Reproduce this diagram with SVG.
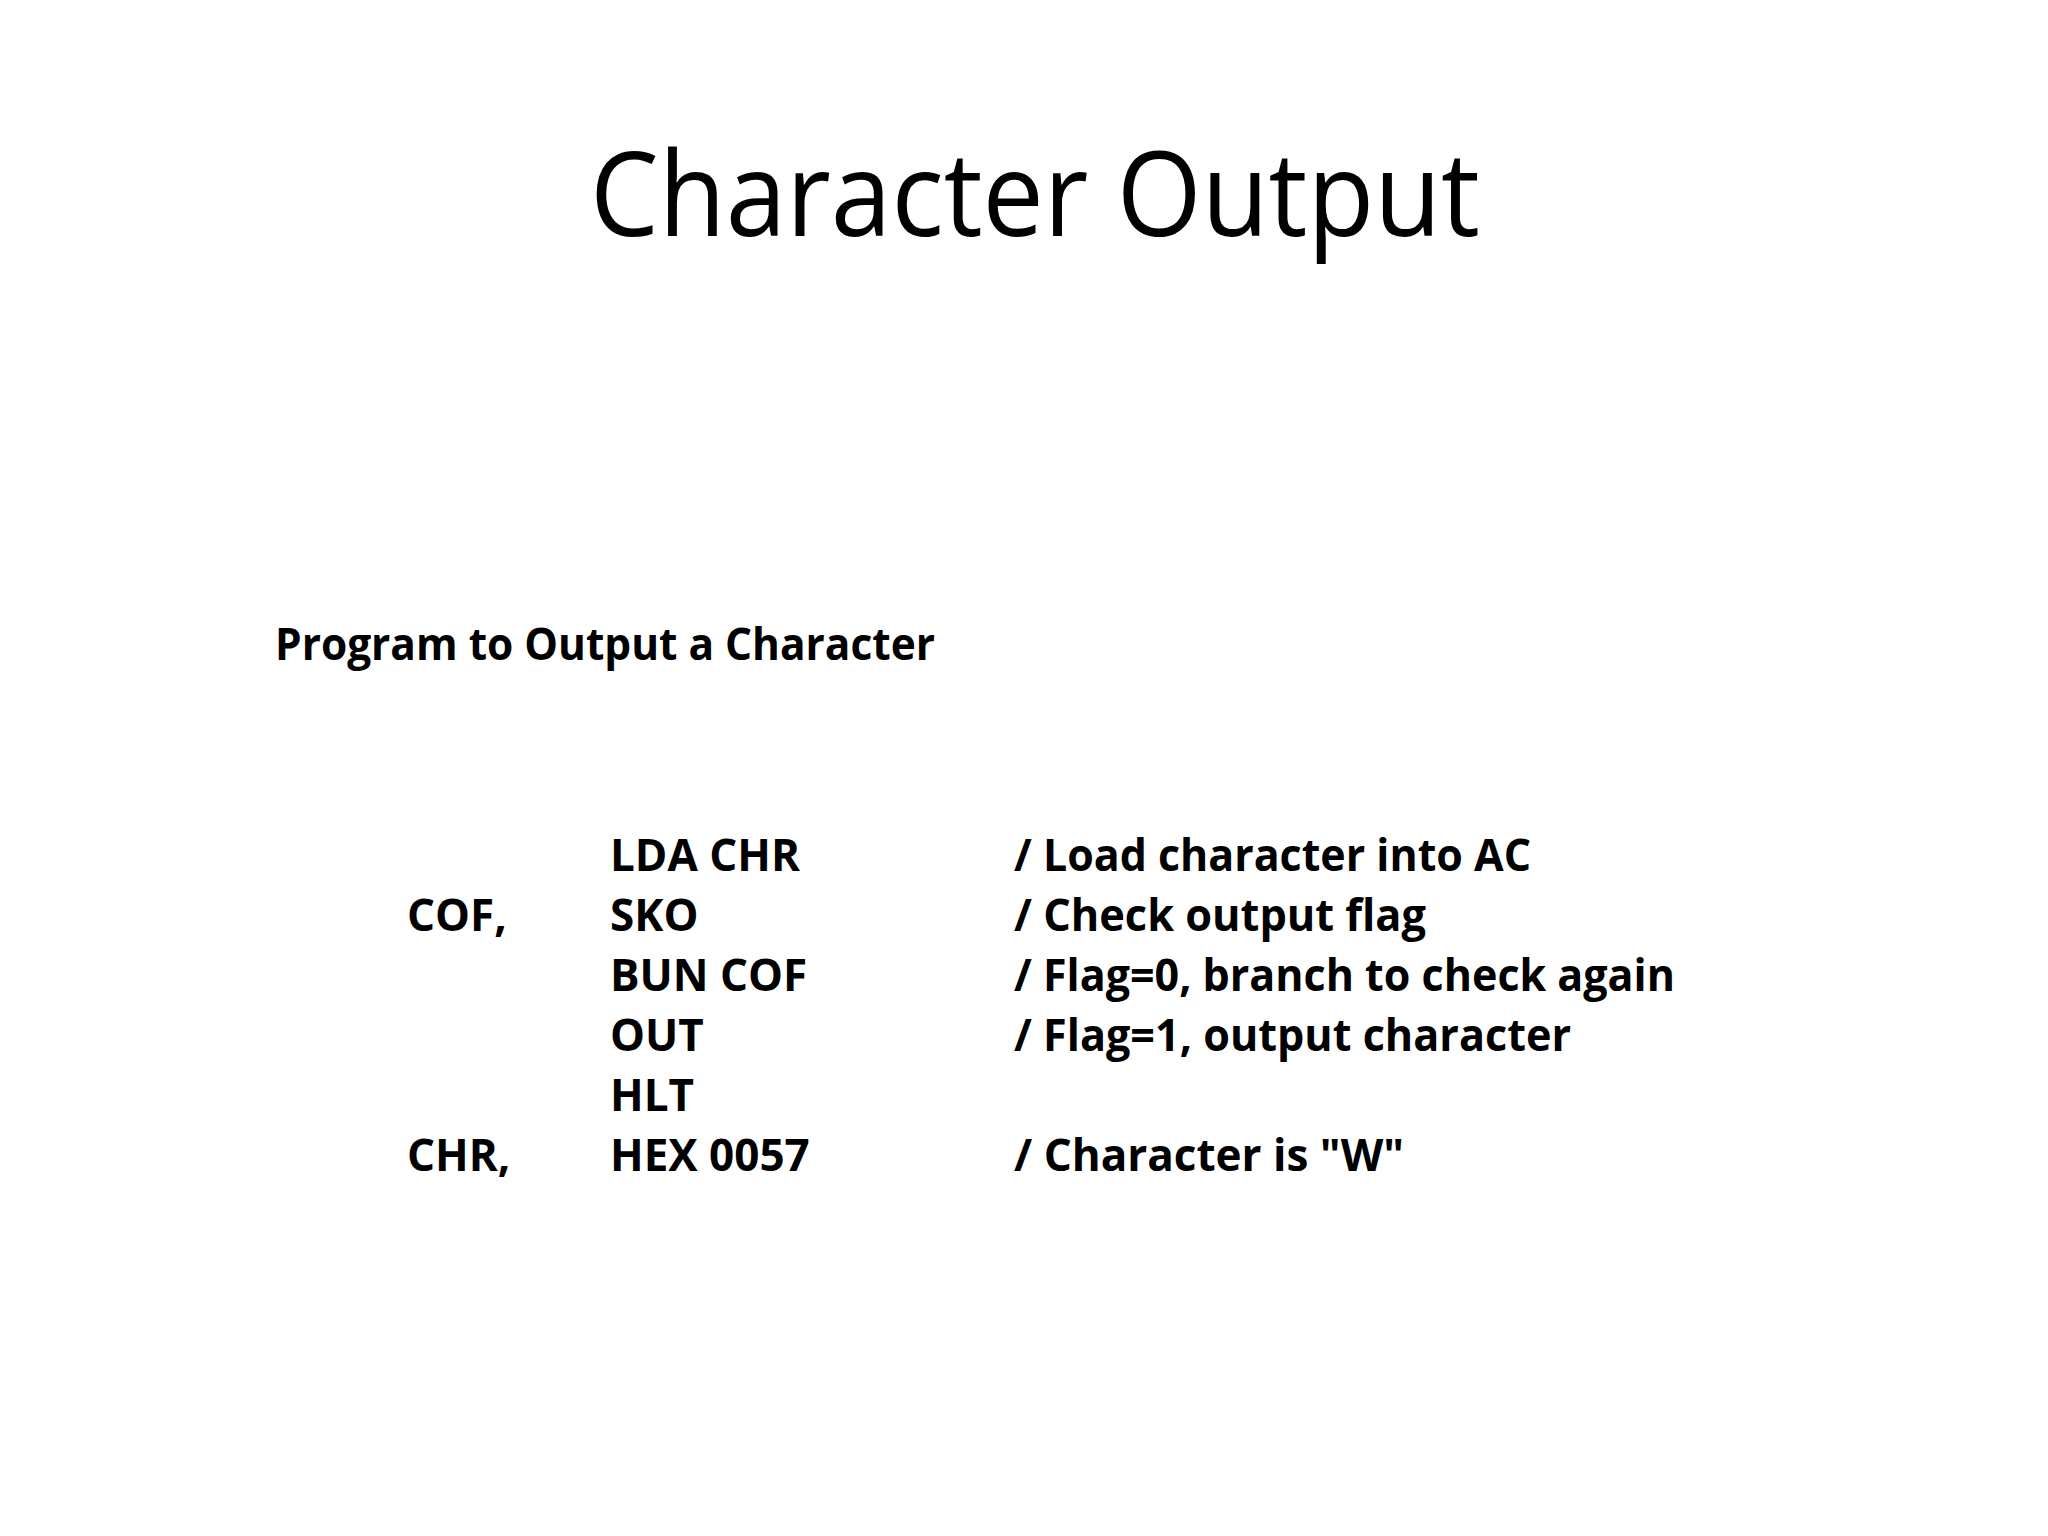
<svg xmlns="http://www.w3.org/2000/svg" width="2048" height="1536" viewBox="0 0 2048 1536">
<style>
text{font-family:"Open Sans","Noto Sans",sans-serif;fill:#000}
.c{font-weight:bold;font-size:44px}
</style>
<rect width="2048" height="1536" fill="#fff"/>
<g id="title"><text x="1035" y="236" text-anchor="middle" font-size="118" textLength="890" lengthAdjust="spacingAndGlyphs">Character Output</text></g>
<g id="subtitle"><text class="c" x="275" y="660" textLength="660" lengthAdjust="spacingAndGlyphs">Program to Output a Character</text></g>
<g id="code" class="c">
<text class="c" x="610" y="871">LDA  CHR</text>
<text class="c" x="1014" y="871" textLength="517" lengthAdjust="spacingAndGlyphs">/ Load character into AC</text>
<text class="c" x="407" y="931">COF,</text>
<text class="c" x="610" y="931">SKO</text>
<text class="c" x="1014" y="931" textLength="412" lengthAdjust="spacingAndGlyphs">/ Check output flag</text>
<text class="c" x="610" y="991">BUN  COF</text>
<text class="c" x="1014" y="991" textLength="661" lengthAdjust="spacingAndGlyphs">/ Flag=0, branch to check again</text>
<text class="c" x="610" y="1051">OUT</text>
<text class="c" x="1014" y="1051" textLength="557" lengthAdjust="spacingAndGlyphs">/ Flag=1, output character</text>
<text class="c" x="610" y="1111">HLT</text>
<text class="c" x="407" y="1171">CHR,</text>
<text class="c" x="610" y="1171">HEX  0057</text>
<text class="c" x="1014" y="1171" textLength="390" lengthAdjust="spacingAndGlyphs">/ Character is "W"</text>
</g>
</svg>
